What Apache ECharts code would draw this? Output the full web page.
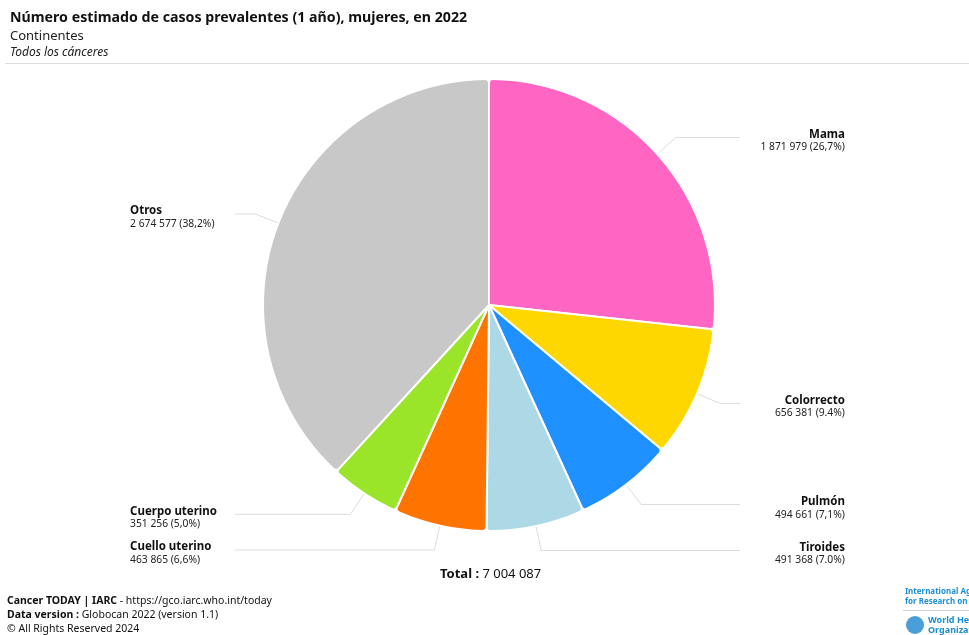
<!DOCTYPE html>
<html>
<head>
<meta charset="utf-8">
<script src="https://cdn.jsdelivr.net/npm/echarts@6/dist/echarts.min.js"></script>
<style>
  html, body { margin: 0; padding: 0; background: #fff; }
  #chart { width: 969px; height: 635px; }
</style>
</head>
<body>
<div id="chart"></div>
<script>
// Datos (Globocan 2022, mujeres, prevalencia 1 año)
const cancers = ['Mama', 'Colorrecto', 'Pulmón', 'Tiroides', 'Cuello uterino', 'Cuerpo uterino', 'Otros']
const cases = [1871979, 656381, 494661, 491368, 463865, 351256, 2674577]
const pctLabels = ['26,7%', '9.4%', '7,1%', '7.0%', '6,6%', '5,0%', '38,2%']
const colors = ['#FF66C4', '#FFD700', '#1E90FF', '#ADD8E6', '#FF7400', '#9AE52A', '#C8C8C8']
const totalCases = 7004087

const FONT = '"Noto Sans", "Open Sans", sans-serif'

// 1 871 979 -> separador de miles con espacio
function fmt(n) {
  return String(n).replace(/\B(?=(\d{3})+(?!\d))/g, ' ')
}

const chart = echarts.init(document.getElementById('chart'), null, { renderer: 'canvas' })

// mitad derecha: texto alineado a la derecha dentro de la caja, izquierda al revés
const rightSide = [true, true, true, true, false, false, false]

const pieData = cancers.map((name, i) => {
  const align = rightSide[i] ? 'right' : 'left'
  return {
    name,
    value: cases[i],
    itemStyle: { color: colors[i] },
    label: {
      edgeDistance: rightSide[i] ? 124 : 128,
      rich: {
        n: { fontFamily: FONT, fontSize: 11.5, fontWeight: 'bold', color: '#111', lineHeight: 13, align },
        v: { fontFamily: FONT, fontSize: 10.3, color: '#222', lineHeight: 13, align },
      },
    },
  }
})

chart.setOption({
  animation: false,
  backgroundColor: '#fff',
  textStyle: { fontFamily: FONT },
  title: [
    {
      text: 'Número estimado de casos prevalentes (1 año), mujeres, en 2022',
      left: 5, top: 6,
      textStyle: { fontFamily: FONT, fontSize: 14.2, fontWeight: 'bold', color: '#111' },
    },
    {
      text: 'Continentes',
      left: 5, top: 25,
      textStyle: { fontFamily: FONT, fontSize: 13, fontWeight: 'normal', color: '#222' },
    },
    {
      text: 'Todos los cánceres',
      left: 5, top: 42,
      textStyle: { fontFamily: FONT, fontSize: 12, fontWeight: 'normal', fontStyle: 'italic', color: '#222' },
    },
    {
      text: '{b|Total :} ' + fmt(totalCases),
      left: 435, top: 563,
      textStyle: {
        fontFamily: FONT, fontSize: 13, fontWeight: 'normal', color: '#111',
        rich: { b: { fontFamily: FONT, fontSize: 13, fontWeight: 'bold', color: '#111' } },
      },
    },
  ],
  graphic: [
    {
      type: 'line',
      shape: { x1: 5, y1: 63.5, x2: 969, y2: 63.5 },
      style: { stroke: '#dcdcdc', lineWidth: 1 },
    },
    {
      type: 'text', left: 7, top: 594,
      style: {
        text: '{b|Cancer TODAY | IARC} - https://gco.iarc.who.int/today\n{b|Data version :} Globocan 2022 (version 1.1)\n© All Rights Reserved 2024',
        font: '10.5px ' + FONT, fill: '#111', lineHeight: 14,
        rich: { b: { fontFamily: FONT, fontSize: 10.5, fontWeight: 'bold', fill: '#111', lineHeight: 14 } },
      },
    },
    {
      type: 'text', left: 905, top: 587,
      style: {
        text: 'International Agency\nfor Research on Cancer',
        font: 'bold 8px ' + FONT, fill: '#1a8fd6', lineHeight: 10,
      },
    },
    {
      type: 'line',
      shape: { x1: 903, y1: 610.5, x2: 969, y2: 610.5 },
      style: { stroke: '#d0d0d0', lineWidth: 1 },
    },
    {
      type: 'circle',
      shape: { cx: 915, cy: 625, r: 9 },
      style: { fill: '#4a9fd8' },
    },
    {
      type: 'text', left: 928, top: 615,
      style: {
        text: 'World Health\nOrganization',
        font: 'bold 9px ' + FONT, fill: '#1a8fd6', lineHeight: 10,
      },
    },
  ],
  series: [{
    type: 'pie',
    center: [489, 305],
    radius: 226,
    startAngle: 90,
    clockwise: true,
    avoidLabelOverlap: true,
    itemStyle: { borderColor: '#fff', borderWidth: 2, borderRadius: 4 },
    emphasis: { disabled: true },
    label: {
      show: true,
      formatter: (p) => `{n|${p.name}}\n{v|${fmt(p.value)} (${pctLabels[p.dataIndex]})}`,
      alignTo: 'labelLine',
      edgeDistance: 126,
      width: 100,
      overflow: 'none',
      padding: [7, 0, 0, 0],
    },
    labelLine: {
      show: true,
      length: 25,
      length2: 20,
      lineStyle: { color: '#dcdcdc', width: 1 },
    },
    data: pieData,
  }],
})
</script>
</body>
</html>
